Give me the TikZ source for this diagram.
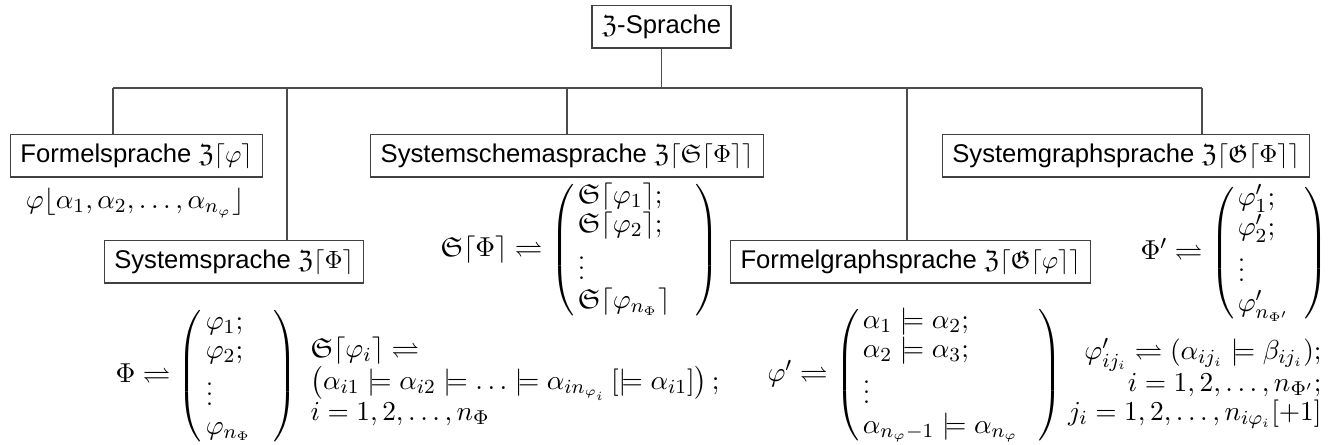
\documentclass[tikz,border=0pt]{standalone}
\usepackage{amsmath,amssymb}
\usepackage[no-math]{fontspec}
\newfontfamily\labfont{Liberation Sans}
\renewcommand\arraystretch{0.86}
\newcommand\mtx[2]{\left(\begin{array}{@{\hspace{1.5pt}}l@{}}#1\end{array}\hspace{#2}\right)}
\tikzset{
  every node/.style={font=\fontsize{11}{13.6}\selectfont, inner sep=0pt},
  lab/.style={draw=black!75, line width=0.6pt, font=\labfont\fontsize{10.25}{12}\selectfont, inner xsep=4pt, minimum height=17pt},
  conn/.style={draw=black!70, line width=0.6pt}
}
\begin{document}
\begin{tikzpicture}[x=0.4pt,y=-0.4pt]
\useasboundingbox (0,0) rectangle (1328,445);
% boxes
\node[lab] (top) at (661.5,27) {$\mathfrak{Z}$-Sprache};
\node[lab] (form) at (136.5,156) {Formelsprache $\mathfrak{Z}\lceil\varphi\rceil$};
\node[lab] (sch) at (567,156) {Systemschemasprache $\mathfrak{Z}\lceil\mathfrak{S}\lceil\Phi\rceil\rceil$};
\node[lab] (sg) at (1126,156) {Systemgraphsprache $\mathfrak{Z}\lceil\mathfrak{G}\lceil\Phi\rceil\rceil$};
\node[lab] (sys) at (234,262) {Systemsprache $\mathfrak{Z}\lceil\Phi\rceil$};
\node[lab] (fg) at (910.5,262) {Formelgraphsprache $\mathfrak{Z}\lceil\mathfrak{G}\lceil\varphi\rceil\rceil$};
% bus
\coordinate (bus) at (661.5,88);
\coordinate (bL) at (113,88);
\coordinate (bR) at (1202,88);
\coordinate (b2) at (287,88);
\coordinate (b3) at (567,88);
\coordinate (b4) at (907,88);
\draw[conn] (top.south) -- (bus);
\draw[conn] (bL) -- (bR);
\draw[conn] (bL) -- (bL |- form.north);
\draw[conn] (b2) -- (b2 |- sys.north);
\draw[conn] (b3) -- (b3 |- sch.north);
\draw[conn] (b4) -- (b4 |- fg.north);
\draw[conn] (bR) -- (bR |- sg.north);
% formulas
\node (f1) at (135,203) {$\varphi\lfloor\alpha_1,\alpha_2,\ldots,\alpha_{n_\varphi}\rfloor$};
\node[anchor=west] (f2) at (115,376) {$\Phi\rightleftharpoons\mtx{\varphi_1;\\ \varphi_2;\\ \vdots\\ \varphi_{n_\Phi}}{9pt}$};
\node[anchor=west] (f3) at (310,383) {$\begin{array}{@{}l@{}}\mathfrak{S}\lceil\varphi_i\rceil\rightleftharpoons\\ \left(\alpha_{i1}\models\alpha_{i2}\models\ldots\models\alpha_{in_{\varphi_i}}\,[\models\alpha_{i1}]\right);\\ i=1,2,\ldots,n_\Phi\end{array}$};
\node[anchor=west] (f4) at (440,250) {$\mathfrak{S}\lceil\Phi\rceil\rightleftharpoons\mtx{\mathfrak{S}\lceil\varphi_1\rceil;\\ \mathfrak{S}\lceil\varphi_2\rceil;\\ \vdots\\ \mathfrak{S}\lceil\varphi_{n_\Phi}\rceil}{10pt}$};
\node[anchor=west] (f5) at (767,375) {$\varphi'\rightleftharpoons\mtx{\alpha_1\models\alpha_2;\\ \alpha_2\models\alpha_3;\\ \vdots\\ \alpha_{n_\varphi-1}\models\alpha_{n_\varphi}}{8pt}$};
\node[anchor=west] (f6) at (1140,253) {$\Phi'\rightleftharpoons\mtx{\varphi'_1;\\ \varphi'_2;\\ \vdots\\ \varphi'_{n_{\Phi'}}}{6pt}$};
\node[anchor=east] (f7) at (1322,384) {$\begin{array}{@{}r@{}}\varphi'_{ij_i}\rightleftharpoons(\alpha_{ij_i}\models\beta_{ij_i});\\ i=1,2,\ldots,n_{\Phi'};\\ j_i=1,2,\ldots,n_{i\varphi_i}[+1]\end{array}$};
\end{tikzpicture}
\end{document}
